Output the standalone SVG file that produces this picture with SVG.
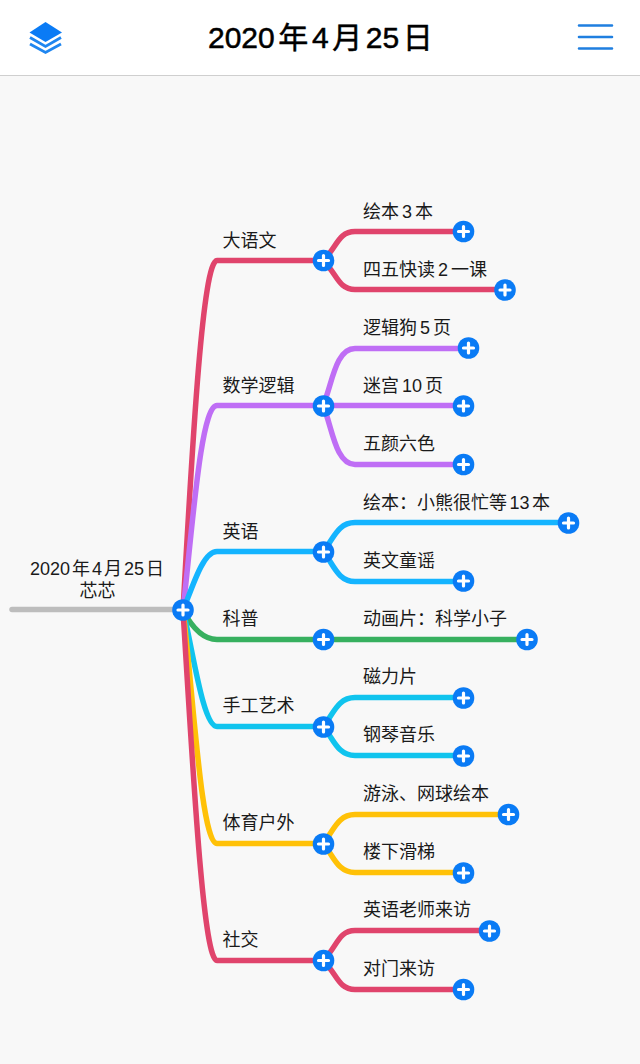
<svg xmlns="http://www.w3.org/2000/svg" width="640" height="1064" viewBox="0 0 640 1064">
<style>
text{font-family:"Liberation Sans","Noto Sans CJK SC",sans-serif;font-size:18px;fill:#1a1a1a}
.t{font-size:30px;font-weight:400;fill:#000;stroke:#000;stroke-width:.5}
.e{fill:none;stroke-width:5.500;stroke-linecap:round;stroke-linejoin:round}
.r{stroke:#e0446c}.p{stroke:#bf6ef5}.b{stroke:#14b4ff}.g{stroke:#37b05f}.c{stroke:#10c4ee}.y{stroke:#ffc107}
.k{stroke:#bdbdbd}
</style>
<defs>
<g id="plus"><circle r="10.800" fill="#0a7bf5"/><path d="M-5 0H5M0-5V5" stroke="#fff" stroke-width="3.200" stroke-linecap="round" fill="none"/></g>
</defs>
<rect width="640" height="1064" fill="#f8f8f8"/>
<g id="header">
<rect width="640" height="75" fill="#fff"/>
<rect y="75" width="640" height="1" fill="#cfcfcf"/>
<path d="M45.500 22L62 32.500L45.500 42L29.500 32.500Z" fill="#0a7bf5"/>
<path d="M30 37.500L45.500 46.500L61 37.500M30 44L45.500 52.500L61 44" fill="none" stroke="#1f86f0" stroke-width="2.800"/>
<path d="M579 25.500H612M579 37H612M579 48.500H612" fill="none" stroke="#1f7fe0" stroke-width="2.600" stroke-linecap="round"/>
<text class="t" x="208" y="48">2020<tspan dx="3.600">年</tspan><tspan dx="3.600">4</tspan><tspan dx="3.600">月</tspan><tspan dx="3.600">25</tspan><tspan dx="3.600">日</tspan></text>
</g>
<g id="connectors" transform="translate(0 .5)">
<path class="e k" d="M12 609H183"/>
<path class="e r" d="M183 610C193 430 203 260 217 260H323M323 260C337 247 338 231 355 231H463M323 260C337 273 338 289 355 289H505"/>
<path class="e p" d="M183 610C193 520 201 405 217 405H323M323 405C332 385 335 348 355 348H468M323 405H463M323 405C332 425 335 464 355 464H463"/>
<path class="e b" d="M183 610C193 585 203 551 217 551H323M323 551C333 540 337 522 355 522H568M323 551C333 562 337 581 355 581H463"/>
<path class="e g" d="M183 610C191 625 202 639 217 639H527"/>
<path class="e c" d="M183 610C193 650 203 726 217 726H323M323 726C333 715 337 697 355 697H463M323 726C333 737 337 755 355 755H463"/>
<path class="e y" d="M183 610C193 690 201 843 217 843H323M323 843C333 832 337 814 355 814H508M323 843C333 854 337 872 355 872H463"/>
<path class="e r" d="M183 610C193 770 203 960 217 960H323M323 960C337 947 338 930 355 930H489M323 960C337 973 338 989 355 989H463"/>
</g>
<g id="root"><text x="97" y="575" text-anchor="middle">2020<tspan dx="2">年</tspan><tspan dx="2">4</tspan><tspan dx="2">月</tspan><tspan dx="2">25</tspan><tspan dx="2">日</tspan></text><text x="97.500" y="597" text-anchor="middle">芯芯</text><use href="#plus" x="183" y="610"/></g>
<g id="n1"><text x="222.500" y="246.500">大语文</text><use href="#plus" x="323.500" y="260.500"/></g>
<g id="n1a"><text x="363" y="217.500">绘本<tspan dx="3">3</tspan><tspan dx="3">本</tspan></text><use href="#plus" x="463.500" y="231.500"/></g>
<g id="n1b"><text x="363" y="275.500">四五快读<tspan dx="3">2</tspan><tspan dx="3">一课</tspan></text><use href="#plus" x="505" y="290"/></g>
<g id="n2"><text x="222.500" y="391.500">数学逻辑</text><use href="#plus" x="323.500" y="406"/></g>
<g id="n2a"><text x="363" y="333.500">逻辑狗<tspan dx="3">5</tspan><tspan dx="3">页</tspan></text><use href="#plus" x="468.500" y="348"/></g>
<g id="n2b"><text x="363" y="391.500">迷宫<tspan dx="3">10</tspan><tspan dx="3">页</tspan></text><use href="#plus" x="463.500" y="406"/></g>
<g id="n2c"><text x="363" y="450">五颜六色</text><use href="#plus" x="463.500" y="464.500"/></g>
<g id="n3"><text x="222.500" y="537.500">英语</text><use href="#plus" x="323.500" y="552"/></g>
<g id="n3a"><text x="363" y="508.500">绘本：小熊很忙等<tspan dx="2.500">13</tspan><tspan dx="2.500">本</tspan></text><use href="#plus" x="568.500" y="523"/></g>
<g id="n3b"><text x="363" y="566.500">英文童谣</text><use href="#plus" x="463.500" y="581"/></g>
<g id="n4"><text x="222.500" y="624.500">科普</text><use href="#plus" x="323.500" y="639.500"/></g>
<g id="n4a"><text x="363" y="624.500">动画片：科学小子</text><use href="#plus" x="527" y="639.500"/></g>
<g id="n5"><text x="222.500" y="712">手工艺术</text><use href="#plus" x="323.500" y="727"/></g>
<g id="n5a"><text x="363" y="683">磁力片</text><use href="#plus" x="463.500" y="698"/></g>
<g id="n5b"><text x="363" y="741">钢琴音乐</text><use href="#plus" x="463.500" y="756"/></g>
<g id="n6"><text x="222.500" y="828.500">体育户外</text><use href="#plus" x="323.500" y="844"/></g>
<g id="n6a"><text x="363" y="799.500">游泳、网球绘本</text><use href="#plus" x="508.500" y="814.500"/></g>
<g id="n6b"><text x="363" y="858">楼下滑梯</text><use href="#plus" x="463.500" y="873"/></g>
<g id="n7"><text x="222.500" y="945.500">社交</text><use href="#plus" x="323.500" y="960.500"/></g>
<g id="n7a"><text x="363" y="916">英语老师来访</text><use href="#plus" x="489.500" y="931"/></g>
<g id="n7b"><text x="363" y="974.500">对门来访</text><use href="#plus" x="463.500" y="989.500"/></g>
</svg>
